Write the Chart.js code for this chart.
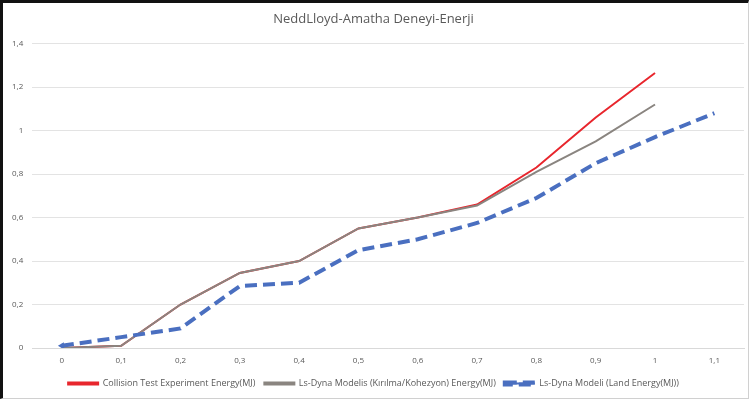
<!DOCTYPE html>
<html>
<head>
<meta charset="utf-8">
<script src="https://cdn.jsdelivr.net/npm/chart.js@4/dist/chart.umd.min.js"></script>
<style>
  html, body { margin: 0; padding: 0; background: #fff; }
  #frame {
    position: absolute; left: 0; top: 0;
    width: 745px; height: 395px;
    border-left: 3px solid #111; border-top: 3px solid #111;
    border-right: 1px solid #d0d0d0; border-bottom: 1px solid #d0d0d0;
    background: #fff;
  }
  #wrap { position: absolute; left: 0; top: 0; width: 745px; height: 395px; }
</style>
</head>
<body>
<div id="frame"><div id="wrap"><canvas id="c"></canvas></div></div>
<script>
// Categories (x) and the three energy series
const categories = ['0', '0,1', '0,2', '0,3', '0,4', '0,5', '0,6', '0,7', '0,8', '0,9', '1', '1,1'];
const seriesNames = [
  'Collision Test Experiment Energy(MJ)',
  'Ls-Dyna Modelis (Kırılma/Kohezyon) Energy(MJ)',
  'Ls-Dyna Modeli (Land Energy(MJ))'
];
const testEnergy  = [0, 0.01, 0.2, 0.345, 0.4, 0.55, 0.6, 0.66, 0.83, 1.06, 1.265, null];
const modelEnergy = [0, 0.01, 0.2, 0.345, 0.4, 0.55, 0.6, 0.655, 0.81, 0.95, 1.12, null];
const landEnergy  = [0.01, 0.05, 0.09, 0.285, 0.3, 0.45, 0.5, 0.575, 0.69, 0.85, 0.97, 1.08];
const yTicks = [0, 0.2, 0.4, 0.6, 0.8, 1, 1.2, 1.4];

const fmt = v => String(+Number(v).toFixed(1)).replace('.', ',');
const FONT = '"Open Sans", "Liberation Sans", sans-serif';

new Chart(document.getElementById('c'), {
  type: 'line',
  data: {
    labels: categories,
    datasets: [
      {
        label: seriesNames[0], data: testEnergy,
        borderColor: '#e8262d', backgroundColor: '#e8262d',
        borderWidth: 2, pointRadius: 0, tension: 0, order: 2
      },
      {
        label: seriesNames[1], data: modelEnergy,
        borderColor: '#8a8580', backgroundColor: '#8a8580',
        borderWidth: 2, pointRadius: 0, tension: 0, order: 1
      },
      {
        label: seriesNames[2], data: landEnergy,
        borderColor: '#4a6fc0', backgroundColor: '#4a6fc0',
        borderWidth: 4, borderDash: [12, 6], tension: 0, order: 0,
        pointStyle: 'triangle', pointRotation: 270,
        pointRadius: landEnergy.map((v, i) => i === 0 ? 4 : 0),
        pointBorderWidth: 0
      }
    ]
  },
  options: {
    responsive: true,
    maintainAspectRatio: false,
    animation: false,
    layout: { padding: { left: 0, right: 4, top: 4, bottom: 0 } },
    plugins: {
      title: {
        display: true, text: 'NeddLloyd-Amatha Deneyi-Enerji',
        color: '#595959', font: { family: FONT, size: 13, weight: 'normal' },
        padding: { top: 4, bottom: 17 }
      },
      legend: {
        position: 'bottom',
        labels: {
          sort: (a, b) => a.datasetIndex - b.datasetIndex,
          boxWidth: 30, boxHeight: 2, color: '#595959',
          font: { family: FONT, size: 9 }, padding: 9
        }
      },
      tooltip: { enabled: false }
    },
    scales: {
      x: {
        type: 'category', offset: true,
        grid: { display: false },
        border: { display: true, color: '#d9d9d9' },
        ticks: { color: '#595959', font: { family: FONT, size: 8 }, padding: 0, maxRotation: 0, autoSkip: false },
        afterFit: axis => { axis.height = 22; }
      },
      y: {
        min: 0, max: 1.4,
        afterBuildTicks: axis => { axis.ticks = yTicks.map(v => ({ value: v })); },
        grid: { color: '#e3e3e3', drawTicks: false },
        border: { display: false },
        ticks: { color: '#595959', font: { family: FONT, size: 8 }, padding: 9, callback: v => fmt(v) }
      }
    }
  }
});
</script>
</body>
</html>
